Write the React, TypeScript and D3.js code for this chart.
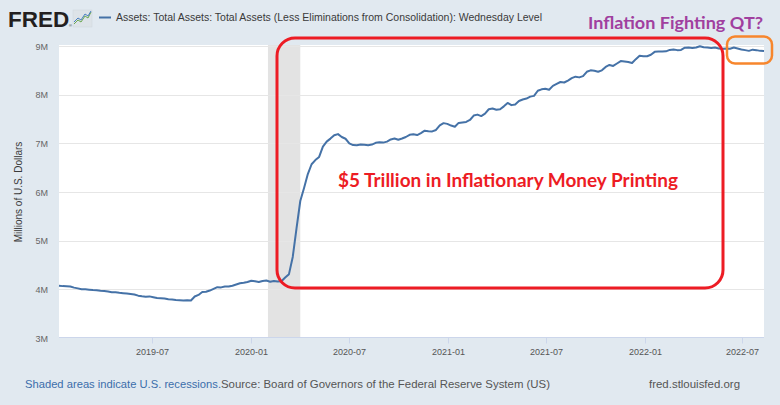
import React from "react";
import * as d3 from "d3";

// Weekly (Wednesday) values, in thousands of millions of U.S. dollars
const start2019 = "2019-01-09";
const values2019 = [
  4075, 4066, 4062, 4058,
  4035, 4020, 4003, 4000,
  3992, 3985, 3983, 3972,
  3965, 3955, 3942, 3938,
  3928, 3922, 3915, 3905, 3895,
  3870, 3858, 3850, 3855,
  3838, 3822, 3818, 3810, 3795,
  3790, 3782, 3778, 3772,
  3775, 3770, 3852, 3885,
  3945, 3950, 3975, 4010, 4045,
  4040, 4060, 4058, 4075,
  4100, 4125, 4135, 4150,
];
const start2020 = "2020-01-01";
const values2020 = [
  4175, 4165, 4150, 4172, 4180,
  4155, 4172, 4160, 4165,
  4242, 4312, 4666, 5254,
  5815, 6084, 6368, 6570, 6656,
  6720, 6934, 7035, 7097,
  7166, 7190, 7130, 7094,
  7000, 6965, 6962, 6975, 6970,
  6960, 6975, 7010, 7020,
  7015, 7035, 7080, 7100, 7075,
  7100, 7130, 7175, 7185,
  7170, 7210, 7260, 7250,
  7245, 7275, 7370, 7415, 7400,
];
const start2021 = "2021-01-06";
const values2021 = [
  7365, 7340, 7420, 7430,
  7440, 7480, 7570, 7590,
  7560, 7610, 7700, 7715, 7690,
  7700, 7760, 7830, 7785,
  7800, 7870, 7900, 7920,
  7960, 7975, 8080, 8110, 8120,
  8100, 8180, 8220, 8260,
  8250, 8290, 8340, 8370,
  8355, 8380, 8470, 8500, 8490,
  8470, 8500, 8570, 8610,
  8590, 8640, 8690, 8680,
  8670, 8650, 8730, 8800, 8790,
];
const start2022 = "2022-01-05";
const values2022 = [
  8790, 8820, 8880, 8885,
  8885, 8890, 8920, 8930,
  8915, 8920, 8965, 8970, 8960,
  8970, 8995, 8975, 8970,
  8960, 8970, 8950, 8945,
  8950, 8945, 8970, 8950, 8930,
  8915, 8900, 8925, 8915,
  8900, 8895,
];

const yTicks = [3000, 4000, 5000, 6000, 7000, 8000, 9000];
const xTickDates = ["2019-07-01", "2020-01-01", "2020-07-01", "2021-01-01", "2021-07-01", "2022-01-01", "2022-07-01"];
const recession = ["2020-02-01", "2020-04-01"];

const title = "Assets: Total Assets: Total Assets (Less Eliminations from Consolidation): Wednesday Level";
const yTitle = "Millions of U.S. Dollars";
const noteRecession = "Shaded areas indicate U.S. recessions.";
const noteSource = "Source: Board of Governors of the Federal Reserve System (US)";
const noteSite = "fred.stlouisfed.org";
const annotMain = "$5 Trillion in Inflationary Money Printing";
const annotQT = "Inflation Fighting QT?";

const parse = d3.utcParse("%Y-%m-%d");

function weekly(startStr: string, vals: number[]) {
  const s = parse(startStr) as Date;
  return vals.map((v, i) => ({ date: d3.utcWeek.offset(s, i), value: v }));
}

const data = [
  ...weekly(start2019, values2019),
  ...weekly(start2020, values2020),
  ...weekly(start2021, values2021),
  ...weekly(start2022, values2022),
];

const W = 780;
const H = 405;
const plot = { left: 59, right: 764, top: 45, bottom: 337.5 };
const FONT = "'Liberation Sans', Arial, sans-serif";
const ANN_FONT = "Lato, 'Open Sans', sans-serif";

export default function App() {
  const x = d3
    .scaleUtc()
    .domain(d3.extent(data, (d) => d.date) as [Date, Date])
    .range([plot.left, plot.right]);
  const y = d3.scaleLinear().domain([3000, 9000]).range([338, 46]);
  const line = d3
    .line<{ date: Date; value: number }>()
    .x((d) => x(d.date))
    .y((d) => y(d.value));

  const r0 = x(parse(recession[0]) as Date);
  const r1 = x(parse(recession[1]) as Date);
  const fmtX = d3.utcFormat("%Y-%m");

  return (
    <svg
      width={W}
      height={H}
      style={{ position: "absolute", left: 0, top: 0, display: "block" }}
    >
      <rect x={0} y={0} width={W} height={H} fill="#e1e9f0" />

      {/* FRED logo */}
      <text x={8} y={27} fontFamily={FONT} fontWeight={700} fontSize={22.5} fill="#231f20">
        FRED
      </text>
      <text x={69} y={27} fontFamily={FONT} fontSize={4} fill="#231f20">®</text>
      <rect x={73} y={10} width={19} height={17} fill="#dde3e8" stroke="#cfd6dc" strokeWidth={0.5} />
      <polyline points="74,24 78,20 81,22 85,16 88,18 91,12" fill="none" stroke="#6aa84f" strokeWidth={1} />
      <polyline points="74,22 78,18 81,20 85,14 88,16 91,11" fill="none" stroke="#4a7fc1" strokeWidth={1} />

      {/* legend */}
      <line x1={99} x2={111} y1={17.5} y2={17.5} stroke="#4572a7" strokeWidth={2} />
      <text x={116} y={21} fontFamily={FONT} fontSize={10.5} fill="#3a3a3a" textLength={426} lengthAdjust="spacingAndGlyphs">
        {title}
      </text>

      {/* plot area */}
      <rect x={plot.left} y={plot.top} width={plot.right - plot.left} height={plot.bottom - plot.top} fill="#ffffff" />
      <rect x={r0} y={plot.top} width={r1 - r0} height={plot.bottom - plot.top} fill="#e3e3e3" />
      {yTicks.slice(1).map((t) => (
        <line key={t} x1={plot.left} x2={plot.right} y1={Math.round(y(t)) + 0.5} y2={Math.round(y(t)) + 0.5} stroke="#e6e6e6" strokeWidth={1} />
      ))}
      <line x1={plot.left} x2={plot.right} y1={plot.bottom} y2={plot.bottom} stroke="#ccd6eb" strokeWidth={1} />

      {/* y tick labels */}
      {yTicks.map((t) => (
        <text key={t} x={48} y={y(t) + 3.5} textAnchor="end" fontFamily={FONT} fontSize={9} fill="#666666">
          {t / 1000 + "M"}
        </text>
      ))}
      <text
        transform={`translate(21.5,192) rotate(-90)`}
        textAnchor="middle"
        fontFamily={FONT}
        fontSize={10}
        fill="#3a3a3a"
      >
        {yTitle}
      </text>

      {/* x ticks */}
      {xTickDates.map((s) => {
        const xx = Math.round(x(parse(s) as Date)) + 0.5;
        return (
          <g key={s}>
            <line x1={xx} x2={xx} y1={plot.bottom} y2={plot.bottom + 6} stroke="#ccd6eb" strokeWidth={1} />
            <text x={xx} y={355} textAnchor="middle" fontFamily={FONT} fontSize={9} fill="#555555">
              {fmtX(parse(s) as Date)}
            </text>
          </g>
        );
      })}

      {/* series */}
      <path d={line(data) || ""} fill="none" stroke="#4572a7" strokeWidth={2} strokeLinejoin="round" />

      {/* annotations */}
      <rect x={277} y={38} width={446} height={250} rx={18} ry={18} fill="none" stroke="#ed1c24" strokeWidth={3} />
      <text x={338} y={187} fontFamily={ANN_FONT} fontWeight={700} fontSize={18} fill="#ed1c24" textLength={340} lengthAdjust="spacingAndGlyphs">
        {annotMain}
      </text>
      <rect x={727} y={36.5} width={45} height={27} rx={8} ry={8} fill="none" stroke="#f7862d" strokeWidth={2.5} />
      <text x={588} y={29} fontFamily={ANN_FONT} fontWeight={700} fontSize={17.5} fill="#a0409f" textLength={175} lengthAdjust="spacingAndGlyphs">
        {annotQT}
      </text>

      {/* footer */}
      <text x={25} y={388} fontFamily={FONT} fontSize={11} fill="#3b6eab" textLength={196} lengthAdjust="spacingAndGlyphs">
        {noteRecession}
      </text>
      <text x={221} y={388} fontFamily={FONT} fontSize={11} fill="#555555" textLength={329} lengthAdjust="spacingAndGlyphs">
        {noteSource}
      </text>
      <text x={649} y={388} fontFamily={FONT} fontSize={11} fill="#555555" textLength={91} lengthAdjust="spacingAndGlyphs">
        {noteSite}
      </text>
    </svg>
  );
}
